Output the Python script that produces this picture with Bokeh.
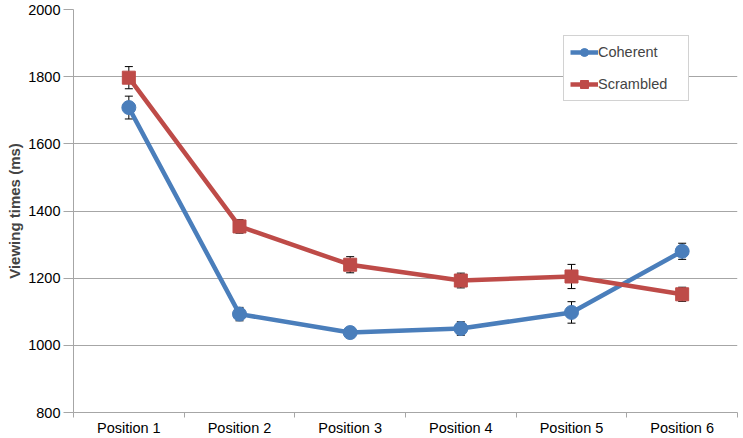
from bokeh.plotting import figure
from bokeh.models import (ColumnDataSource, FixedTicker, Whisker, TeeHead, Legend, LegendItem,
                          Range1d)
from bokeh.embed import file_html
from bokeh.resources import INLINE

categories = ["Position 1", "Position 2", "Position 3", "Position 4", "Position 5", "Position 6"]
coherent = [1708, 1093, 1038, 1050, 1098, 1280]
coherent_err = [34, 20, 15, 20, 32, 24]
scrambled = [1797, 1354, 1240, 1193, 1205, 1152]
scrambled_err = [33, 20, 24, 22, 36, 21]
y_ticks = [800, 1000, 1200, 1400, 1600, 1800, 2000]

xs = [i + 0.5 for i in range(len(categories))]
BLUE = "#4A7EBB"
RED = "#BE4B48"
FONT = "Liberation Sans"
TICK_FS = "14.5px"

p = figure(width=743, height=438, output_backend="svg", toolbar_location=None,
           x_range=Range1d(0, len(categories)), y_range=Range1d(800, 2000),
           min_border_left=73, min_border_right=6, min_border_top=9, min_border_bottom=0)
p.outline_line_color = None
p.xgrid.visible = False
p.ygrid.grid_line_color = "#A6A6A6"
p.ygrid.grid_line_width = 1

p.yaxis.ticker = FixedTicker(ticks=y_ticks)
p.yaxis.axis_label = "Viewing times (ms)"
p.yaxis.axis_label_text_font = FONT
p.yaxis.axis_label_text_font_style = "bold"
p.yaxis.axis_label_text_font_size = "15px"
p.yaxis.axis_label_standoff = 2
p.yaxis.major_label_text_font = FONT
p.yaxis.major_label_text_font_size = TICK_FS
p.yaxis.major_label_text_color = "#000000"
p.yaxis.axis_line_color = "#A6A6A6"
p.yaxis.major_tick_line_color = "#A6A6A6"
p.yaxis.major_tick_out = 10
p.yaxis.major_tick_in = 0
p.yaxis.minor_tick_line_color = None
p.yaxis.major_label_standoff = 3

p.xaxis.ticker = FixedTicker(ticks=xs, minor_ticks=list(range(len(categories) + 1)))
p.xaxis.major_label_overrides = {x: c for x, c in zip(xs, categories)}
p.xaxis.major_label_text_font = FONT
p.xaxis.major_label_text_font_size = TICK_FS
p.xaxis.major_label_text_color = "#000000"
p.xaxis.axis_line_color = "#A6A6A6"
p.xaxis.major_tick_line_color = None
p.xaxis.major_tick_out = 0
p.xaxis.minor_tick_line_color = "#A6A6A6"
p.xaxis.minor_tick_out = 5
p.xaxis.minor_tick_in = 0
p.xaxis.major_label_standoff = 2

src_c = ColumnDataSource(dict(x=xs, y=coherent,
                              lo=[v - e for v, e in zip(coherent, coherent_err)],
                              hi=[v + e for v, e in zip(coherent, coherent_err)]))
src_s = ColumnDataSource(dict(x=xs, y=scrambled,
                              lo=[v - e for v, e in zip(scrambled, scrambled_err)],
                              hi=[v + e for v, e in zip(scrambled, scrambled_err)]))

lc = p.line("x", "y", source=src_c, line_color=BLUE, line_width=4.5)
ls = p.line("x", "y", source=src_s, line_color=RED, line_width=4.5)
mc = p.scatter("x", "y", source=src_c, marker="circle", size=14, fill_color=BLUE, line_color=BLUE)
ms = p.scatter("x", "y", source=src_s, marker="square", size=13, fill_color=RED, line_color=RED)

for src in (src_c, src_s):
    w = Whisker(source=src, base="x", upper="hi", lower="lo", line_color="black", line_width=1,
                upper_head=TeeHead(size=8, line_color="black", line_width=1),
                lower_head=TeeHead(size=8, line_color="black", line_width=1))
    p.add_layout(w)

legend = Legend(items=[LegendItem(label="Coherent", renderers=[lc, mc]),
                       LegendItem(label="Scrambled", renderers=[ls, ms])],
                location=(490, 311), orientation="vertical")
legend.label_text_font = FONT
legend.label_text_font_size = TICK_FS
legend.glyph_width = 28
legend.glyph_height = 20
legend.label_standoff = 0
legend.spacing = 12
legend.padding = 6
legend.margin = 0
legend.border_line_color = "#A6A6A6"
legend.border_line_width = 1
legend.background_fill_color = "white"
legend.background_fill_alpha = 1
legend.label_width = 84
p.add_layout(legend)

open("out.html", "w").write(file_html(p, INLINE))
